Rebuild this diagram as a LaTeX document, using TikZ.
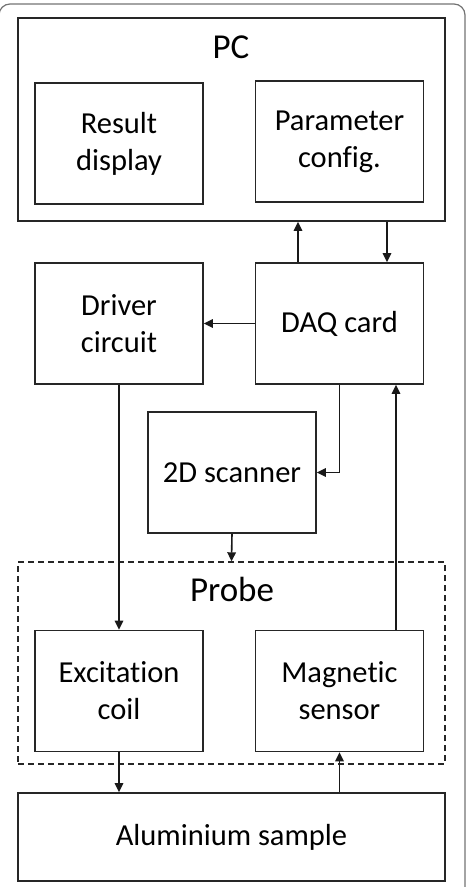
\documentclass[tikz,border=0pt]{standalone}
\usepackage{fontspec}
\setmainfont{Carlito}[Ligatures={NoCommon}]
\usetikzlibrary{arrows.meta}
\begin{document}
\begin{tikzpicture}[x=1pt,y=-1pt,
  box/.style={draw=black!85,line width=1.7pt,minimum width=168pt,minimum height=121pt,inner sep=0pt,align=center,font=\fontsize{30.5}{37}\selectfont},
  bigbox/.style={draw=black!85,line width=1.7pt,minimum width=427pt,inner sep=0pt},
  arr/.style={draw=black!90,line width=1.6pt,-{Triangle[length=9pt,width=8.5pt]}},
  ttl/.style={font=\fontsize{35}{42}\selectfont}]
\useasboundingbox (0,0) rectangle (469,887);
\clip (0,0) rectangle (469,887);
\draw[black!55,line width=1.2pt,rounded corners=11pt] (-1,4) rectangle (465,905);
% PC
\node[bigbox,minimum height=203pt] (pc) at (231.5,119.5) {};
\node[ttl] (pclbl) at (231,47) {PC};
\node[box] (res) at (119,143.5) {Result\\display};
\node[box] (par) at (339.5,141.5) {Parameter\\config.};
% middle
\node[box] (drv) at (119,323.5) {Driver\\circuit};
\node[box] (daq) at (339.5,323.5) {DAQ card};
\node[box] (scn) at (232,472.5) {2D scanner};
% probe
\node[draw=black!85,line width=1.4pt,dash pattern=on 6pt off 4pt,minimum width=427pt,minimum height=202pt,inner sep=0pt] (prb) at (231.5,663) {};
\node[ttl] (prblbl) at (232,589) {Probe};
\node[box] (exc) at (119,691) {Excitation\\coil};
\node[box] (sen) at (339.5,691) {Magnetic\\sensor};
% sample
\node[bigbox,minimum height=88pt,font=\fontsize{30.5}{37}\selectfont] (smp) at (231.5,837) {Aluminium sample};
% connectors
\draw[arr] ([xshift=-41.5pt]daq.north) -- ([xshift=-41.5pt]daq.north |- pc.south);
\draw[arr] ([xshift=47.5pt]daq.north |- pc.south) -- ([xshift=47.5pt]daq.north);
\draw[arr] (daq.west) -- (drv.east);
\draw[arr] (daq.south) |- (scn.east);
\draw[arr] (scn.south) -- (prb.north);
\draw[arr] (drv.south) -- (exc.north);
\draw[arr] ([xshift=56.5pt]sen.north) -- ([xshift=56.5pt]sen.north |- daq.south);
\draw[arr] (exc.south) -- (exc.south |- smp.north);
\draw[arr] (sen.south |- smp.north) -- (sen.south);
\end{tikzpicture}
\end{document}
